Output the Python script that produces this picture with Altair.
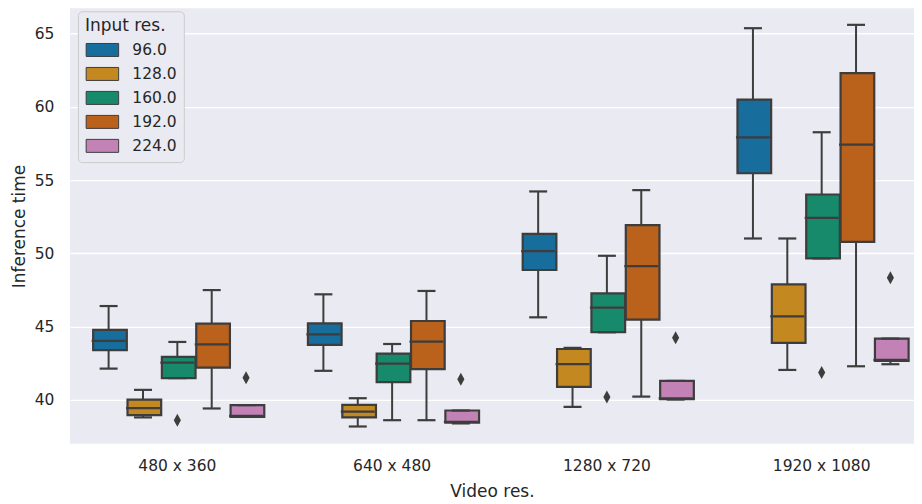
import altair as alt
import pandas as pd

# ---- data ----
video_res = ["480 x 360", "640 x 480", "1280 x 720", "1920 x 1080"]
input_res = ["96.0", "128.0", "160.0", "192.0", "224.0"]

# per input res: values for each video res (in video_res order)
whisker_low = [
    [42.13, 41.98, 45.63, 51.01],
    [38.80, 38.18, 39.52, 42.04],
    [41.48, 38.61, 44.61, 49.65],
    [39.41, 38.61, 40.22, 42.29],
    [38.84, 38.39, 40.02, 42.43],
]
q1 = [
    [43.39, 43.75, 48.86, 55.46],
    [38.95, 38.80, 40.89, 43.88],
    [41.48, 41.21, 44.61, 49.65],
    [42.20, 42.09, 45.47, 50.78],
    [38.84, 38.45, 40.05, 42.66],
]
median = [
    [44.02, 44.47, 50.15, 57.91],
    [39.43, 39.20, 42.43, 45.70],
    [42.54, 42.47, 46.29, 52.42],
    [43.79, 43.97, 49.13, 57.41],
    [38.90, 38.50, 40.10, 42.72],
]
q3 = [
    [44.77, 45.22, 51.33, 60.48],
    [40.02, 39.66, 43.47, 47.88],
    [42.93, 43.15, 47.27, 54.01],
    [45.20, 45.38, 51.92, 62.30],
    [39.64, 39.27, 41.29, 44.18],
]
whisker_high = [
    [46.40, 47.20, 54.22, 65.36],
    [40.68, 40.11, 43.54, 51.01],
    [43.95, 43.81, 49.83, 58.26],
    [47.49, 47.43, 54.31, 65.59],
    [39.64, 39.27, 41.29, 44.18],
]
outlier_video = ["480 x 360", "480 x 360", "640 x 480", "1280 x 720", "1280 x 720", "1920 x 1080", "1920 x 1080"]
outlier_input = ["160.0", "224.0", "224.0", "160.0", "224.0", "160.0", "224.0"]
outlier_value = [38.61, 41.50, 41.41, 40.20, 44.24, 41.86, 48.33]

colors = ["#176d9c", "#c38820", "#168a6a", "#ba611b", "#c282b5"]
line_col = "#3d3d3d"
text_col = "#262626"
font = "DejaVu Sans"

rows = []
for i, inp in enumerate(input_res):
    for j, vid in enumerate(video_res):
        rows.append({
            "video": vid, "input": inp,
            "low": whisker_low[i][j], "q1": q1[i][j], "med": median[i][j],
            "q3": q3[i][j], "high": whisker_high[i][j],
        })
df = pd.DataFrame(rows)
out_df = pd.DataFrame({"video": outlier_video, "input": outlier_input, "value": outlier_value})

x = alt.X("video:N", sort=video_res, title="Video res.",
          scale=alt.Scale(paddingInner=0.2, paddingOuter=0.065, align=0.77),
          axis=alt.Axis(labelAngle=0, grid=False, ticks=False, domain=False,
                        labelFontSize=15.5, titleFontSize=17, labelPadding=14.5,
                        titlePadding=10, labelColor=text_col, titleColor=text_col,
                        labelFont=font, titleFont=font, titleFontWeight="normal"))
xo = alt.XOffset("input:N", sort=input_res, scale=alt.Scale(paddingInner=0, paddingOuter=0))
yscale = alt.Scale(domain=[37.0, 66.72], nice=False, zero=False)
yaxis = alt.Axis(values=[40, 45, 50, 55, 60, 65], ticks=False, domain=False, grid=True,
                 gridColor="white", gridWidth=1.3, labelFontSize=15.5, titleFontSize=17,
                 labelPadding=16, titlePadding=6, labelColor=text_col, titleColor=text_col,
                 labelFont=font, titleFont=font, titleFontWeight="normal")
color = alt.Color("input:N", sort=input_res, title="Input res.",
                  scale=alt.Scale(domain=input_res, range=colors),
                  legend=alt.Legend(orient="none", legendX=8, legendY=3,
                                    symbolType="M-1,-1H4V1H-1Z", symbolSize=169,
                                    symbolStrokeColor=line_col, symbolStrokeWidth=1,
                                    symbolOpacity=1, labelOffset=32,
                                    labelFontSize=15.5, titleFontSize=17, labelFont=font,
                                    titleFont=font, titleFontWeight="normal",
                                    labelColor=text_col, titleColor=text_col,
                                    fillColor="#EAEAF2", strokeColor="#cccccc",
                                    cornerRadius=4, padding=7, rowPadding=6,
                                    titlePadding=7))

base = alt.Chart(df)

whiskers = base.mark_rule(color=line_col, strokeWidth=2).encode(
    x=x, xOffset=xo,
    y=alt.Y("low:Q", scale=yscale, axis=yaxis, title="Inference time"),
    y2="high:Q",
)
boxes = base.mark_bar(stroke=line_col, strokeWidth=2.2, width=alt.RelativeBandSize(0.98)).encode(
    x=x, xOffset=xo, y="q1:Q", y2="q3:Q", color=color,
)
meds = base.mark_tick(color=line_col, thickness=2.2, size=34, opacity=1).encode(
    x=x, xOffset=xo, y="med:Q",
)
cap_lo = base.mark_tick(color=line_col, thickness=2.2, size=18, opacity=1).encode(
    x=x, xOffset=xo, y="low:Q",
)
cap_hi = base.mark_tick(color=line_col, thickness=2.2, size=18, opacity=1).encode(
    x=x, xOffset=xo, y="high:Q",
)
fliers = alt.Chart(out_df).mark_point(shape="M0,-1L0.55,0L0,1L-0.55,0Z", size=169,
                                      filled=True, color=line_col, opacity=1).encode(
    x=x, xOffset=alt.XOffset("input:N", sort=input_res), y="value:Q",
)

chart = alt.layer(whiskers, boxes, meds, cap_lo, cap_hi, fliers).properties(
    width=845, height=436, background="white",
    padding={"left": 2, "top": 0, "right": 0, "bottom": 0},
).configure_view(fill="#EAEAF2", stroke=None)

chart.save("out.html", embed_options={"renderer": "svg", "actions": False})
